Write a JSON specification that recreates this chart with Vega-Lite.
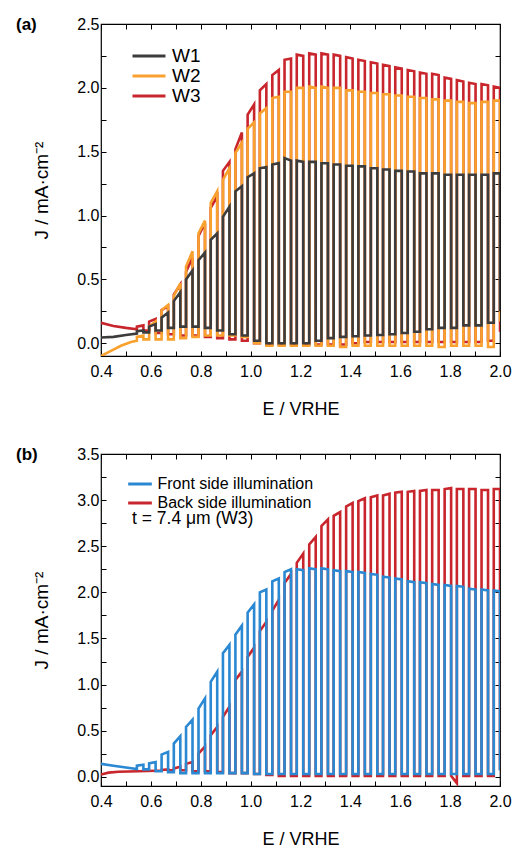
{
"$schema": "https://vega.github.io/schema/vega-lite/v6.json",
"padding": {"left": 15, "top": 15, "right": 5, "bottom": 0},
"spacing": 26,
"resolve": {"scale": {"color": "independent"}, "legend": {"color": "independent"}},
"config": {
  "font": "Liberation Sans",
  "view": {"stroke": "#000", "strokeWidth": 1.2},
  "axis": {"domain": false, "grid": false, "ticks": true, "tickSize": -5, "tickColor": "#000", "tickWidth": 1, "labelFont": "Liberation Sans", "labelFontSize": 16, "labelColor": "#000", "labelFlush": false, "labelOverlap": false, "labelBound": false, "titleFont": "Liberation Sans", "titleFontSize": 18, "titleFontWeight": "normal", "titleColor": "#000"},
  "legend": {"labelFont": "Liberation Sans", "labelColor": "#000", "titleFont": "Liberation Sans", "titleColor": "#000"}
},
"datasets": {
"a": [
{"s":"W3","e":0.4,"j":0.16},{"s":"W3","e":0.45,"j":0.135},{"s":"W3","e":0.5,"j":0.12},
{"s":"W3","e":0.544,"j":0.11},{"s":"W3","e":0.544,"j":0.13},{"s":"W3","e":0.57,"j":0.14},{"s":"W3","e":0.57,"j":0.1},
{"s":"W3","e":0.593,"j":0.1},{"s":"W3","e":0.593,"j":0.17},{"s":"W3","e":0.619,"j":0.19},{"s":"W3","e":0.619,"j":0.08},
{"s":"W3","e":0.643,"j":0.08},{"s":"W3","e":0.643,"j":0.26},{"s":"W3","e":0.669,"j":0.29},{"s":"W3","e":0.669,"j":0.07},
{"s":"W3","e":0.692,"j":0.07},{"s":"W3","e":0.692,"j":0.38},{"s":"W3","e":0.718,"j":0.46},{"s":"W3","e":0.718,"j":0.06},
{"s":"W3","e":0.741,"j":0.06},{"s":"W3","e":0.741,"j":0.56},{"s":"W3","e":0.767,"j":0.67},{"s":"W3","e":0.767,"j":0.06},
{"s":"W3","e":0.791,"j":0.06},{"s":"W3","e":0.791,"j":0.84},{"s":"W3","e":0.817,"j":0.94},{"s":"W3","e":0.817,"j":0.05},
{"s":"W3","e":0.84,"j":0.05},{"s":"W3","e":0.84,"j":1.06},{"s":"W3","e":0.866,"j":1.15},{"s":"W3","e":0.866,"j":0.04},
{"s":"W3","e":0.889,"j":0.04},{"s":"W3","e":0.889,"j":1.35},{"s":"W3","e":0.915,"j":1.42},{"s":"W3","e":0.915,"j":0.03},
{"s":"W3","e":0.939,"j":0.03},{"s":"W3","e":0.939,"j":1.52},{"s":"W3","e":0.965,"j":1.65},{"s":"W3","e":0.965,"j":0.02},
{"s":"W3","e":0.988,"j":0.02},{"s":"W3","e":0.988,"j":1.79},{"s":"W3","e":1.014,"j":1.87},{"s":"W3","e":1.014,"j":0.0},
{"s":"W3","e":1.037,"j":0.0},{"s":"W3","e":1.037,"j":1.98},{"s":"W3","e":1.063,"j":2.03},{"s":"W3","e":1.063,"j":-0.01},
{"s":"W3","e":1.087,"j":-0.01},{"s":"W3","e":1.087,"j":2.1},{"s":"W3","e":1.113,"j":2.14},{"s":"W3","e":1.113,"j":-0.01},
{"s":"W3","e":1.136,"j":-0.01},{"s":"W3","e":1.136,"j":2.22},{"s":"W3","e":1.162,"j":2.23},{"s":"W3","e":1.162,"j":-0.01},
{"s":"W3","e":1.185,"j":-0.01},{"s":"W3","e":1.185,"j":2.26},{"s":"W3","e":1.211,"j":2.25},{"s":"W3","e":1.211,"j":-0.01},
{"s":"W3","e":1.235,"j":-0.01},{"s":"W3","e":1.235,"j":2.27},{"s":"W3","e":1.261,"j":2.26},{"s":"W3","e":1.261,"j":-0.01},
{"s":"W3","e":1.284,"j":-0.01},{"s":"W3","e":1.284,"j":2.27},{"s":"W3","e":1.31,"j":2.26},{"s":"W3","e":1.31,"j":-0.01},
{"s":"W3","e":1.333,"j":-0.01},{"s":"W3","e":1.333,"j":2.26},{"s":"W3","e":1.359,"j":2.25},{"s":"W3","e":1.359,"j":-0.01},
{"s":"W3","e":1.383,"j":-0.01},{"s":"W3","e":1.383,"j":2.24},{"s":"W3","e":1.409,"j":2.23},{"s":"W3","e":1.409,"j":0.0},
{"s":"W3","e":1.432,"j":0.0},{"s":"W3","e":1.432,"j":2.22},{"s":"W3","e":1.458,"j":2.21},{"s":"W3","e":1.458,"j":0.01},
{"s":"W3","e":1.482,"j":0.01},{"s":"W3","e":1.482,"j":2.2},{"s":"W3","e":1.508,"j":2.19},{"s":"W3","e":1.508,"j":0.01},
{"s":"W3","e":1.531,"j":0.01},{"s":"W3","e":1.531,"j":2.18},{"s":"W3","e":1.557,"j":2.17},{"s":"W3","e":1.557,"j":0.01},
{"s":"W3","e":1.58,"j":0.01},{"s":"W3","e":1.58,"j":2.16},{"s":"W3","e":1.606,"j":2.15},{"s":"W3","e":1.606,"j":0.01},
{"s":"W3","e":1.63,"j":0.01},{"s":"W3","e":1.63,"j":2.14},{"s":"W3","e":1.656,"j":2.13},{"s":"W3","e":1.656,"j":0.01},
{"s":"W3","e":1.679,"j":0.01},{"s":"W3","e":1.679,"j":2.12},{"s":"W3","e":1.705,"j":2.11},{"s":"W3","e":1.705,"j":0.01},
{"s":"W3","e":1.728,"j":0.01},{"s":"W3","e":1.728,"j":2.11},{"s":"W3","e":1.754,"j":2.1},{"s":"W3","e":1.754,"j":0.01},
{"s":"W3","e":1.778,"j":0.01},{"s":"W3","e":1.778,"j":2.08},{"s":"W3","e":1.804,"j":2.07},{"s":"W3","e":1.804,"j":0.01},
{"s":"W3","e":1.827,"j":0.01},{"s":"W3","e":1.827,"j":2.06},{"s":"W3","e":1.853,"j":2.05},{"s":"W3","e":1.853,"j":0.01},
{"s":"W3","e":1.876,"j":0.01},{"s":"W3","e":1.876,"j":2.04},{"s":"W3","e":1.902,"j":2.03},{"s":"W3","e":1.902,"j":0.01},
{"s":"W3","e":1.926,"j":0.01},{"s":"W3","e":1.926,"j":2.03},{"s":"W3","e":1.952,"j":2.02},{"s":"W3","e":1.952,"j":0.02},
{"s":"W3","e":1.975,"j":0.02},{"s":"W3","e":1.975,"j":2.01},{"s":"W3","e":2.0,"j":2.0},{"s":"W3","e":2.0,"j":0.09},
{"s":"W2","e":0.4,"j":-0.1},{"s":"W2","e":0.44,"j":-0.06},{"s":"W2","e":0.48,"j":-0.02},{"s":"W2","e":0.52,"j":0.01},
{"s":"W2","e":0.544,"j":0.02},{"s":"W2","e":0.544,"j":0.05},{"s":"W2","e":0.57,"j":0.06},{"s":"W2","e":0.57,"j":0.03},
{"s":"W2","e":0.593,"j":0.03},{"s":"W2","e":0.593,"j":0.13},{"s":"W2","e":0.619,"j":0.17},{"s":"W2","e":0.619,"j":0.03},
{"s":"W2","e":0.643,"j":0.03},{"s":"W2","e":0.643,"j":0.26},{"s":"W2","e":0.669,"j":0.3},{"s":"W2","e":0.669,"j":0.03},
{"s":"W2","e":0.692,"j":0.03},{"s":"W2","e":0.692,"j":0.37},{"s":"W2","e":0.718,"j":0.47},{"s":"W2","e":0.718,"j":0.04},
{"s":"W2","e":0.741,"j":0.04},{"s":"W2","e":0.741,"j":0.6},{"s":"W2","e":0.767,"j":0.72},{"s":"W2","e":0.767,"j":0.05},
{"s":"W2","e":0.791,"j":0.05},{"s":"W2","e":0.791,"j":0.86},{"s":"W2","e":0.817,"j":0.96},{"s":"W2","e":0.817,"j":0.06},
{"s":"W2","e":0.84,"j":0.06},{"s":"W2","e":0.84,"j":1.1},{"s":"W2","e":0.866,"j":1.19},{"s":"W2","e":0.866,"j":0.06},
{"s":"W2","e":0.889,"j":0.06},{"s":"W2","e":0.889,"j":1.28},{"s":"W2","e":0.915,"j":1.37},{"s":"W2","e":0.915,"j":0.06},
{"s":"W2","e":0.939,"j":0.06},{"s":"W2","e":0.939,"j":1.49},{"s":"W2","e":0.965,"j":1.57},{"s":"W2","e":0.965,"j":0.05},
{"s":"W2","e":0.988,"j":0.05},{"s":"W2","e":0.988,"j":1.68},{"s":"W2","e":1.014,"j":1.73},{"s":"W2","e":1.014,"j":0.0},
{"s":"W2","e":1.037,"j":0.0},{"s":"W2","e":1.037,"j":1.8},{"s":"W2","e":1.063,"j":1.84},{"s":"W2","e":1.063,"j":-0.02},
{"s":"W2","e":1.087,"j":-0.02},{"s":"W2","e":1.087,"j":1.92},{"s":"W2","e":1.113,"j":1.93},{"s":"W2","e":1.113,"j":-0.02},
{"s":"W2","e":1.136,"j":-0.02},{"s":"W2","e":1.136,"j":1.97},{"s":"W2","e":1.162,"j":1.97},{"s":"W2","e":1.162,"j":-0.02},
{"s":"W2","e":1.185,"j":-0.02},{"s":"W2","e":1.185,"j":2.0},{"s":"W2","e":1.211,"j":2.0},{"s":"W2","e":1.211,"j":-0.02},
{"s":"W2","e":1.235,"j":-0.02},{"s":"W2","e":1.235,"j":2.01},{"s":"W2","e":1.261,"j":2.0},{"s":"W2","e":1.261,"j":-0.02},
{"s":"W2","e":1.284,"j":-0.02},{"s":"W2","e":1.284,"j":2.01},{"s":"W2","e":1.31,"j":2.0},{"s":"W2","e":1.31,"j":-0.02},
{"s":"W2","e":1.333,"j":-0.02},{"s":"W2","e":1.333,"j":2.0},{"s":"W2","e":1.359,"j":2.0},{"s":"W2","e":1.359,"j":-0.03},
{"s":"W2","e":1.383,"j":-0.03},{"s":"W2","e":1.383,"j":1.98},{"s":"W2","e":1.409,"j":1.98},{"s":"W2","e":1.409,"j":-0.02},
{"s":"W2","e":1.432,"j":-0.02},{"s":"W2","e":1.432,"j":1.97},{"s":"W2","e":1.458,"j":1.97},{"s":"W2","e":1.458,"j":-0.02},
{"s":"W2","e":1.482,"j":-0.02},{"s":"W2","e":1.482,"j":1.96},{"s":"W2","e":1.508,"j":1.96},{"s":"W2","e":1.508,"j":-0.02},
{"s":"W2","e":1.531,"j":-0.02},{"s":"W2","e":1.531,"j":1.95},{"s":"W2","e":1.557,"j":1.95},{"s":"W2","e":1.557,"j":-0.02},
{"s":"W2","e":1.58,"j":-0.02},{"s":"W2","e":1.58,"j":1.94},{"s":"W2","e":1.606,"j":1.94},{"s":"W2","e":1.606,"j":-0.02},
{"s":"W2","e":1.63,"j":-0.02},{"s":"W2","e":1.63,"j":1.93},{"s":"W2","e":1.656,"j":1.93},{"s":"W2","e":1.656,"j":-0.02},
{"s":"W2","e":1.679,"j":-0.02},{"s":"W2","e":1.679,"j":1.92},{"s":"W2","e":1.705,"j":1.92},{"s":"W2","e":1.705,"j":-0.02},
{"s":"W2","e":1.728,"j":-0.02},{"s":"W2","e":1.728,"j":1.91},{"s":"W2","e":1.754,"j":1.91},{"s":"W2","e":1.754,"j":-0.03},
{"s":"W2","e":1.778,"j":-0.03},{"s":"W2","e":1.778,"j":1.9},{"s":"W2","e":1.804,"j":1.9},{"s":"W2","e":1.804,"j":-0.02},
{"s":"W2","e":1.827,"j":-0.02},{"s":"W2","e":1.827,"j":1.89},{"s":"W2","e":1.853,"j":1.89},{"s":"W2","e":1.853,"j":-0.02},
{"s":"W2","e":1.876,"j":-0.02},{"s":"W2","e":1.876,"j":1.88},{"s":"W2","e":1.902,"j":1.88},{"s":"W2","e":1.902,"j":-0.02},
{"s":"W2","e":1.926,"j":-0.02},{"s":"W2","e":1.926,"j":1.89},{"s":"W2","e":1.952,"j":1.89},{"s":"W2","e":1.952,"j":-0.03},
{"s":"W2","e":1.975,"j":-0.03},{"s":"W2","e":1.975,"j":1.9},{"s":"W2","e":2.0,"j":1.9},{"s":"W2","e":2.0,"j":0.17},
{"s":"W1","e":0.4,"j":0.045},{"s":"W1","e":0.45,"j":0.05},{"s":"W1","e":0.5,"j":0.065},
{"s":"W1","e":0.544,"j":0.075},{"s":"W1","e":0.544,"j":0.095},{"s":"W1","e":0.57,"j":0.1},{"s":"W1","e":0.57,"j":0.085},
{"s":"W1","e":0.593,"j":0.085},{"s":"W1","e":0.593,"j":0.13},{"s":"W1","e":0.619,"j":0.15},{"s":"W1","e":0.619,"j":0.1},
{"s":"W1","e":0.643,"j":0.1},{"s":"W1","e":0.643,"j":0.2},{"s":"W1","e":0.669,"j":0.24},{"s":"W1","e":0.669,"j":0.12},
{"s":"W1","e":0.692,"j":0.12},{"s":"W1","e":0.692,"j":0.33},{"s":"W1","e":0.718,"j":0.4},{"s":"W1","e":0.718,"j":0.13},
{"s":"W1","e":0.741,"j":0.13},{"s":"W1","e":0.741,"j":0.5},{"s":"W1","e":0.767,"j":0.57},{"s":"W1","e":0.767,"j":0.13},
{"s":"W1","e":0.791,"j":0.13},{"s":"W1","e":0.791,"j":0.65},{"s":"W1","e":0.817,"j":0.71},{"s":"W1","e":0.817,"j":0.12},
{"s":"W1","e":0.84,"j":0.12},{"s":"W1","e":0.84,"j":0.81},{"s":"W1","e":0.866,"j":0.86},{"s":"W1","e":0.866,"j":0.1},
{"s":"W1","e":0.889,"j":0.1},{"s":"W1","e":0.889,"j":0.99},{"s":"W1","e":0.915,"j":1.07},{"s":"W1","e":0.915,"j":0.07},
{"s":"W1","e":0.939,"j":0.07},{"s":"W1","e":0.939,"j":1.19},{"s":"W1","e":0.965,"j":1.23},{"s":"W1","e":0.965,"j":0.06},
{"s":"W1","e":0.988,"j":0.06},{"s":"W1","e":0.988,"j":1.3},{"s":"W1","e":1.014,"j":1.33},{"s":"W1","e":1.014,"j":0.02},
{"s":"W1","e":1.037,"j":0.02},{"s":"W1","e":1.037,"j":1.37},{"s":"W1","e":1.063,"j":1.38},{"s":"W1","e":1.063,"j":0.0},
{"s":"W1","e":1.087,"j":0.0},{"s":"W1","e":1.087,"j":1.4},{"s":"W1","e":1.113,"j":1.41},{"s":"W1","e":1.113,"j":0.0},
{"s":"W1","e":1.136,"j":0.0},{"s":"W1","e":1.136,"j":1.45},{"s":"W1","e":1.162,"j":1.43},{"s":"W1","e":1.162,"j":0.0},
{"s":"W1","e":1.185,"j":0.0},{"s":"W1","e":1.185,"j":1.43},{"s":"W1","e":1.211,"j":1.42},{"s":"W1","e":1.211,"j":0.0},
{"s":"W1","e":1.235,"j":0.0},{"s":"W1","e":1.235,"j":1.42},{"s":"W1","e":1.261,"j":1.42},{"s":"W1","e":1.261,"j":0.02},
{"s":"W1","e":1.284,"j":0.02},{"s":"W1","e":1.284,"j":1.41},{"s":"W1","e":1.31,"j":1.41},{"s":"W1","e":1.31,"j":0.04},
{"s":"W1","e":1.333,"j":0.04},{"s":"W1","e":1.333,"j":1.4},{"s":"W1","e":1.359,"j":1.4},{"s":"W1","e":1.359,"j":0.05},
{"s":"W1","e":1.383,"j":0.05},{"s":"W1","e":1.383,"j":1.39},{"s":"W1","e":1.409,"j":1.39},{"s":"W1","e":1.409,"j":0.055},
{"s":"W1","e":1.432,"j":0.055},{"s":"W1","e":1.432,"j":1.385},{"s":"W1","e":1.458,"j":1.385},{"s":"W1","e":1.458,"j":0.06},
{"s":"W1","e":1.482,"j":0.06},{"s":"W1","e":1.482,"j":1.37},{"s":"W1","e":1.508,"j":1.37},{"s":"W1","e":1.508,"j":0.065},
{"s":"W1","e":1.531,"j":0.065},{"s":"W1","e":1.531,"j":1.36},{"s":"W1","e":1.557,"j":1.36},{"s":"W1","e":1.557,"j":0.07},
{"s":"W1","e":1.58,"j":0.07},{"s":"W1","e":1.58,"j":1.35},{"s":"W1","e":1.606,"j":1.35},{"s":"W1","e":1.606,"j":0.08},
{"s":"W1","e":1.63,"j":0.08},{"s":"W1","e":1.63,"j":1.345},{"s":"W1","e":1.656,"j":1.345},{"s":"W1","e":1.656,"j":0.09},
{"s":"W1","e":1.679,"j":0.09},{"s":"W1","e":1.679,"j":1.33},{"s":"W1","e":1.705,"j":1.33},{"s":"W1","e":1.705,"j":0.11},
{"s":"W1","e":1.728,"j":0.11},{"s":"W1","e":1.728,"j":1.33},{"s":"W1","e":1.754,"j":1.33},{"s":"W1","e":1.754,"j":0.12},
{"s":"W1","e":1.778,"j":0.12},{"s":"W1","e":1.778,"j":1.32},{"s":"W1","e":1.804,"j":1.32},{"s":"W1","e":1.804,"j":0.12},
{"s":"W1","e":1.827,"j":0.12},{"s":"W1","e":1.827,"j":1.32},{"s":"W1","e":1.853,"j":1.32},{"s":"W1","e":1.853,"j":0.14},
{"s":"W1","e":1.876,"j":0.14},{"s":"W1","e":1.876,"j":1.32},{"s":"W1","e":1.902,"j":1.32},{"s":"W1","e":1.902,"j":0.14},
{"s":"W1","e":1.926,"j":0.14},{"s":"W1","e":1.926,"j":1.32},{"s":"W1","e":1.952,"j":1.32},{"s":"W1","e":1.952,"j":0.16},
{"s":"W1","e":1.975,"j":0.16},{"s":"W1","e":1.975,"j":1.33},{"s":"W1","e":2.0,"j":1.33},{"s":"W1","e":2.0,"j":0.25}
],
"b": [
{"s":"B","e":0.4,"j":0.025},{"s":"B","e":0.43,"j":0.045},{"s":"B","e":0.47,"j":0.055},{"s":"B","e":0.55,"j":0.06},{"s":"B","e":0.62,"j":0.065},
{"s":"B","e":0.643,"j":0.065},{"s":"B","e":0.643,"j":0.075},{"s":"B","e":0.669,"j":0.08},{"s":"B","e":0.669,"j":0.07},
{"s":"B","e":0.692,"j":0.07},{"s":"B","e":0.692,"j":0.09},{"s":"B","e":0.718,"j":0.11},{"s":"B","e":0.718,"j":0.07},
{"s":"B","e":0.741,"j":0.07},{"s":"B","e":0.741,"j":0.14},{"s":"B","e":0.767,"j":0.16},{"s":"B","e":0.767,"j":0.06},
{"s":"B","e":0.791,"j":0.06},{"s":"B","e":0.791,"j":0.25},{"s":"B","e":0.817,"j":0.33},{"s":"B","e":0.817,"j":0.06},
{"s":"B","e":0.84,"j":0.06},{"s":"B","e":0.84,"j":0.45},{"s":"B","e":0.866,"j":0.54},{"s":"B","e":0.866,"j":0.05},
{"s":"B","e":0.889,"j":0.05},{"s":"B","e":0.889,"j":0.65},{"s":"B","e":0.915,"j":0.76},{"s":"B","e":0.915,"j":0.04},
{"s":"B","e":0.939,"j":0.04},{"s":"B","e":0.939,"j":1.05},{"s":"B","e":0.965,"j":1.14},{"s":"B","e":0.965,"j":0.04},
{"s":"B","e":0.988,"j":0.04},{"s":"B","e":0.988,"j":1.3},{"s":"B","e":1.014,"j":1.4},{"s":"B","e":1.014,"j":0.03},
{"s":"B","e":1.037,"j":0.03},{"s":"B","e":1.037,"j":1.58},{"s":"B","e":1.063,"j":1.68},{"s":"B","e":1.063,"j":0.02},
{"s":"B","e":1.087,"j":0.02},{"s":"B","e":1.087,"j":1.8},{"s":"B","e":1.113,"j":1.92},{"s":"B","e":1.113,"j":0.01},
{"s":"B","e":1.136,"j":0.01},{"s":"B","e":1.136,"j":2.1},{"s":"B","e":1.162,"j":2.2},{"s":"B","e":1.162,"j":0.01},
{"s":"B","e":1.185,"j":0.01},{"s":"B","e":1.185,"j":2.32},{"s":"B","e":1.211,"j":2.42},{"s":"B","e":1.211,"j":0.01},
{"s":"B","e":1.235,"j":0.01},{"s":"B","e":1.235,"j":2.52},{"s":"B","e":1.261,"j":2.6},{"s":"B","e":1.261,"j":0.01},
{"s":"B","e":1.284,"j":0.01},{"s":"B","e":1.284,"j":2.72},{"s":"B","e":1.31,"j":2.79},{"s":"B","e":1.31,"j":0.01},
{"s":"B","e":1.333,"j":0.01},{"s":"B","e":1.333,"j":2.83},{"s":"B","e":1.359,"j":2.87},{"s":"B","e":1.359,"j":0.01},
{"s":"B","e":1.383,"j":0.01},{"s":"B","e":1.383,"j":2.93},{"s":"B","e":1.409,"j":2.97},{"s":"B","e":1.409,"j":0.01},
{"s":"B","e":1.432,"j":0.01},{"s":"B","e":1.432,"j":2.99},{"s":"B","e":1.458,"j":3.02},{"s":"B","e":1.458,"j":0.01},
{"s":"B","e":1.482,"j":0.01},{"s":"B","e":1.482,"j":3.03},{"s":"B","e":1.508,"j":3.05},{"s":"B","e":1.508,"j":0.01},
{"s":"B","e":1.531,"j":0.01},{"s":"B","e":1.531,"j":3.05},{"s":"B","e":1.557,"j":3.07},{"s":"B","e":1.557,"j":0.01},
{"s":"B","e":1.58,"j":0.01},{"s":"B","e":1.58,"j":3.08},{"s":"B","e":1.606,"j":3.09},{"s":"B","e":1.606,"j":0.01},
{"s":"B","e":1.63,"j":0.01},{"s":"B","e":1.63,"j":3.09},{"s":"B","e":1.656,"j":3.1},{"s":"B","e":1.656,"j":0.01},
{"s":"B","e":1.679,"j":0.01},{"s":"B","e":1.679,"j":3.1},{"s":"B","e":1.705,"j":3.11},{"s":"B","e":1.705,"j":0.01},
{"s":"B","e":1.728,"j":0.01},{"s":"B","e":1.728,"j":3.11},{"s":"B","e":1.754,"j":3.11},{"s":"B","e":1.754,"j":0.01},
{"s":"B","e":1.778,"j":0.01},{"s":"B","e":1.778,"j":3.12},{"s":"B","e":1.804,"j":3.13},{"s":"B","e":1.804,"j":0.01},
{"s":"B","e":1.827,"j":-0.07},{"s":"B","e":1.827,"j":3.12},{"s":"B","e":1.853,"j":3.12},{"s":"B","e":1.853,"j":0.01},
{"s":"B","e":1.876,"j":0.01},{"s":"B","e":1.876,"j":3.12},{"s":"B","e":1.902,"j":3.12},{"s":"B","e":1.902,"j":0.01},
{"s":"B","e":1.926,"j":0.01},{"s":"B","e":1.926,"j":3.11},{"s":"B","e":1.952,"j":3.11},{"s":"B","e":1.952,"j":0.01},
{"s":"B","e":1.975,"j":0.01},{"s":"B","e":1.975,"j":3.12},{"s":"B","e":2.0,"j":3.12},{"s":"B","e":2.0,"j":0.07},
{"s":"F","e":0.4,"j":0.14},{"s":"F","e":0.45,"j":0.12},{"s":"F","e":0.5,"j":0.1},
{"s":"F","e":0.544,"j":0.085},{"s":"F","e":0.544,"j":0.12},{"s":"F","e":0.57,"j":0.13},{"s":"F","e":0.57,"j":0.08},
{"s":"F","e":0.593,"j":0.08},{"s":"F","e":0.593,"j":0.145},{"s":"F","e":0.619,"j":0.16},{"s":"F","e":0.619,"j":0.06},
{"s":"F","e":0.643,"j":0.06},{"s":"F","e":0.643,"j":0.24},{"s":"F","e":0.669,"j":0.27},{"s":"F","e":0.669,"j":0.05},
{"s":"F","e":0.692,"j":0.05},{"s":"F","e":0.692,"j":0.36},{"s":"F","e":0.718,"j":0.44},{"s":"F","e":0.718,"j":0.04},
{"s":"F","e":0.741,"j":0.04},{"s":"F","e":0.741,"j":0.54},{"s":"F","e":0.767,"j":0.62},{"s":"F","e":0.767,"j":0.04},
{"s":"F","e":0.791,"j":0.04},{"s":"F","e":0.791,"j":0.74},{"s":"F","e":0.817,"j":0.85},{"s":"F","e":0.817,"j":0.04},
{"s":"F","e":0.84,"j":0.04},{"s":"F","e":0.84,"j":1.03},{"s":"F","e":0.866,"j":1.14},{"s":"F","e":0.866,"j":0.04},
{"s":"F","e":0.889,"j":0.04},{"s":"F","e":0.889,"j":1.34},{"s":"F","e":0.915,"j":1.43},{"s":"F","e":0.915,"j":0.04},
{"s":"F","e":0.939,"j":0.04},{"s":"F","e":0.939,"j":1.54},{"s":"F","e":0.965,"j":1.64},{"s":"F","e":0.965,"j":0.04},
{"s":"F","e":0.988,"j":0.04},{"s":"F","e":0.988,"j":1.78},{"s":"F","e":1.014,"j":1.87},{"s":"F","e":1.014,"j":0.03},
{"s":"F","e":1.037,"j":0.03},{"s":"F","e":1.037,"j":2.0},{"s":"F","e":1.063,"j":2.03},{"s":"F","e":1.063,"j":0.03},
{"s":"F","e":1.087,"j":0.03},{"s":"F","e":1.087,"j":2.12},{"s":"F","e":1.113,"j":2.15},{"s":"F","e":1.113,"j":0.03},
{"s":"F","e":1.136,"j":0.03},{"s":"F","e":1.136,"j":2.22},{"s":"F","e":1.162,"j":2.25},{"s":"F","e":1.162,"j":0.03},
{"s":"F","e":1.185,"j":0.03},{"s":"F","e":1.185,"j":2.25},{"s":"F","e":1.211,"j":2.24},{"s":"F","e":1.211,"j":0.03},
{"s":"F","e":1.235,"j":0.03},{"s":"F","e":1.235,"j":2.26},{"s":"F","e":1.261,"j":2.25},{"s":"F","e":1.261,"j":0.03},
{"s":"F","e":1.284,"j":0.03},{"s":"F","e":1.284,"j":2.26},{"s":"F","e":1.31,"j":2.25},{"s":"F","e":1.31,"j":0.03},
{"s":"F","e":1.333,"j":0.03},{"s":"F","e":1.333,"j":2.24},{"s":"F","e":1.359,"j":2.23},{"s":"F","e":1.359,"j":0.03},
{"s":"F","e":1.383,"j":0.03},{"s":"F","e":1.383,"j":2.23},{"s":"F","e":1.409,"j":2.22},{"s":"F","e":1.409,"j":0.03},
{"s":"F","e":1.432,"j":0.03},{"s":"F","e":1.432,"j":2.22},{"s":"F","e":1.458,"j":2.21},{"s":"F","e":1.458,"j":0.03},
{"s":"F","e":1.482,"j":0.03},{"s":"F","e":1.482,"j":2.2},{"s":"F","e":1.508,"j":2.19},{"s":"F","e":1.508,"j":0.03},
{"s":"F","e":1.531,"j":0.03},{"s":"F","e":1.531,"j":2.17},{"s":"F","e":1.557,"j":2.16},{"s":"F","e":1.557,"j":0.03},
{"s":"F","e":1.58,"j":0.03},{"s":"F","e":1.58,"j":2.15},{"s":"F","e":1.606,"j":2.14},{"s":"F","e":1.606,"j":0.03},
{"s":"F","e":1.63,"j":0.03},{"s":"F","e":1.63,"j":2.12},{"s":"F","e":1.656,"j":2.11},{"s":"F","e":1.656,"j":0.03},
{"s":"F","e":1.679,"j":0.03},{"s":"F","e":1.679,"j":2.11},{"s":"F","e":1.705,"j":2.1},{"s":"F","e":1.705,"j":0.03},
{"s":"F","e":1.728,"j":0.03},{"s":"F","e":1.728,"j":2.09},{"s":"F","e":1.754,"j":2.08},{"s":"F","e":1.754,"j":0.03},
{"s":"F","e":1.778,"j":0.03},{"s":"F","e":1.778,"j":2.08},{"s":"F","e":1.804,"j":2.07},{"s":"F","e":1.804,"j":0.03},
{"s":"F","e":1.827,"j":0.03},{"s":"F","e":1.827,"j":2.07},{"s":"F","e":1.853,"j":2.06},{"s":"F","e":1.853,"j":0.03},
{"s":"F","e":1.876,"j":0.03},{"s":"F","e":1.876,"j":2.04},{"s":"F","e":1.902,"j":2.03},{"s":"F","e":1.902,"j":0.03},
{"s":"F","e":1.926,"j":0.03},{"s":"F","e":1.926,"j":2.03},{"s":"F","e":1.952,"j":2.02},{"s":"F","e":1.952,"j":0.03},
{"s":"F","e":1.975,"j":0.03},{"s":"F","e":1.975,"j":2.02},{"s":"F","e":2.0,"j":2.01},{"s":"F","e":2.0,"j":0.07}
]
},
"vconcat": [
{
  "width": 399, "height": 332,
  "title": {"text": "(a)", "anchor": "start", "frame": "group", "dx": -85, "offset": -26, "baseline": "middle", "fontSize": 17, "fontWeight": "bold", "font": "Liberation Sans", "color": "#000"},
  "data": {"name": "a"},
  "encoding": {
    "color": {"field": "s", "type": "nominal", "scale": {"domain": ["W1", "W2", "W3"], "range": ["#3c3c3c", "#f9a12e", "#c8252c"]},
      "legend": {"orient": "none", "legendX": 38, "legendY": 22, "title": null, "symbolType": "M-2,0H2", "symbolStrokeWidth": 3.2, "symbolSize": 272, "labelFontSize": 19, "labelOffset": 13, "rowPadding": -0.7}},
    "order": {"value": null}
  },
  "layer": [
    {"transform": [{"filter": "datum.s == 'W3'"}], "mark": {"type": "line", "strokeWidth": 2.6, "clip": true},
     "encoding": {
       "x": {"field": "e", "type": "quantitative", "scale": {"domain": [0.4, 2.0], "nice": false, "zero": false},
             "axis": {"orient": "bottom", "values": [0.4,0.5,0.6,0.7,0.8,0.9,1.0,1.1,1.2,1.3,1.4,1.5,1.6,1.7,1.8,1.9,2.0], "labelExpr": "round(datum.value*10)%2==0 ? format(datum.value,'.1f') : ''", "labelPadding": 12, "title": "E / VRHE", "titlePadding": 21}},
       "y": {"field": "j", "type": "quantitative", "scale": {"domain": [-0.1, 2.5], "nice": false, "zero": false},
             "axis": {"orient": "left", "values": [0,0.25,0.5,0.75,1,1.25,1.5,1.75,2,2.25,2.5], "labelExpr": "round(datum.value*4)%2==0 ? format(datum.value,'.1f') : ''", "labelPadding": 7, "title": "J / mA·cm⁻²", "titlePadding": 25, "titleFontSize": 19}}
     }},
    {"transform": [{"filter": "datum.s == 'W2'"}], "mark": {"type": "line", "strokeWidth": 2.6, "clip": true},
     "encoding": {
       "x": {"field": "e", "type": "quantitative", "scale": {"domain": [0.4, 2.0], "nice": false, "zero": false}, "axis": null},
       "y": {"field": "j", "type": "quantitative", "scale": {"domain": [-0.1, 2.5], "nice": false, "zero": false}, "axis": null}
     }},
    {"transform": [{"filter": "datum.s == 'W1'"}], "mark": {"type": "line", "strokeWidth": 2.6, "clip": true},
     "encoding": {
       "x": {"field": "e", "type": "quantitative", "scale": {"domain": [0.4, 2.0], "nice": false, "zero": false},
             "axis": {"orient": "top", "values": [0.4,0.5,0.6,0.7,0.8,0.9,1.0,1.1,1.2,1.3,1.4,1.5,1.6,1.7,1.8,1.9,2.0], "labels": false, "title": null}},
       "y": {"field": "j", "type": "quantitative", "scale": {"domain": [-0.1, 2.5], "nice": false, "zero": false},
             "axis": {"orient": "right", "values": [0,0.25,0.5,0.75,1,1.25,1.5,1.75,2,2.25,2.5], "labels": false, "title": null}}
     }}
  ],
  "resolve": {"axis": {"x": "independent", "y": "independent"}}
},
{
  "width": 399, "height": 332,
  "title": {"text": "(b)", "anchor": "start", "frame": "group", "dx": -85, "offset": -26, "baseline": "middle", "fontSize": 17, "fontWeight": "bold", "font": "Liberation Sans", "color": "#000"},
  "data": {"name": "b"},
  "encoding": {
    "color": {"field": "s", "type": "nominal", "scale": {"domain": ["F", "B"], "range": ["#2b88d2", "#c8252c"]},
      "legend": {"orient": "none", "legendX": 31, "legendY": 22, "title": "t = 7.4 μm (W3)", "titleOrient": "bottom", "titleAnchor": "start", "titleFontSize": 17.5, "titleFontWeight": "normal", "titlePadding": -1, "symbolType": "M-2,0H2", "symbolStrokeWidth": 3, "symbolSize": 140, "labelFontSize": 16, "labelOffset": 9.5, "rowPadding": 3, "labelExpr": "datum.label == 'F' ? 'Front side illumination' : 'Back side illumination'"}},
    "order": {"value": null}
  },
  "layer": [
    {"transform": [{"filter": "datum.s == 'B'"}], "mark": {"type": "line", "strokeWidth": 2.6, "clip": true},
     "encoding": {
       "x": {"field": "e", "type": "quantitative", "scale": {"domain": [0.4, 2.0], "nice": false, "zero": false},
             "axis": {"orient": "bottom", "values": [0.4,0.5,0.6,0.7,0.8,0.9,1.0,1.1,1.2,1.3,1.4,1.5,1.6,1.7,1.8,1.9,2.0], "labelExpr": "round(datum.value*10)%2==0 ? format(datum.value,'.1f') : ''", "labelPadding": 12, "title": "E / VRHE", "titlePadding": 21}},
       "y": {"field": "j", "type": "quantitative", "scale": {"domain": [-0.1, 3.5], "nice": false, "zero": false},
             "axis": {"orient": "left", "values": [0,0.25,0.5,0.75,1,1.25,1.5,1.75,2,2.25,2.5,2.75,3,3.25,3.5], "labelExpr": "round(datum.value*4)%2==0 ? format(datum.value,'.1f') : ''", "labelPadding": 7, "title": "J / mA·cm⁻²", "titlePadding": 25, "titleFontSize": 19}}
     }},
    {"transform": [{"filter": "datum.s == 'F'"}], "mark": {"type": "line", "strokeWidth": 2.6, "clip": true},
     "encoding": {
       "x": {"field": "e", "type": "quantitative", "scale": {"domain": [0.4, 2.0], "nice": false, "zero": false},
             "axis": {"orient": "top", "values": [0.4,0.5,0.6,0.7,0.8,0.9,1.0,1.1,1.2,1.3,1.4,1.5,1.6,1.7,1.8,1.9,2.0], "labels": false, "title": null}},
       "y": {"field": "j", "type": "quantitative", "scale": {"domain": [-0.1, 3.5], "nice": false, "zero": false},
             "axis": {"orient": "right", "values": [0,0.25,0.5,0.75,1,1.25,1.5,1.75,2,2.25,2.5,2.75,3,3.25,3.5], "labels": false, "title": null}}
     }}
  ],
  "resolve": {"axis": {"x": "independent", "y": "independent"}}
}
]
}
